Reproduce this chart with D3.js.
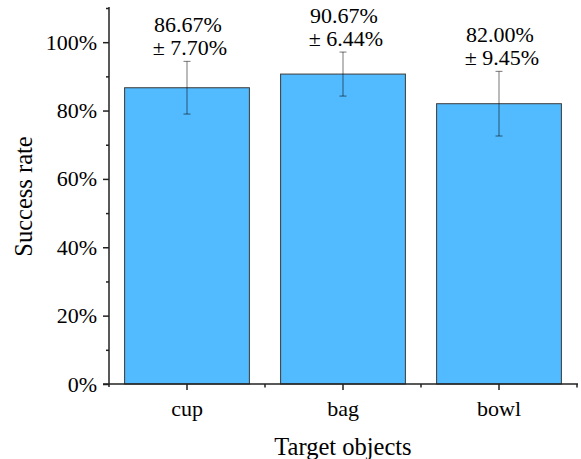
<!DOCTYPE html>
<html>
<head>
<meta charset="utf-8">
<script src="https://cdn.jsdelivr.net/npm/d3@7"></script>
<style>
html,body{margin:0;padding:0;background:#fff;}
</style>
</head>
<body>
<svg id="chart" width="581" height="459"></svg>
<script>
const categories = ["cup", "bag", "bowl"];
const values = [86.67, 90.67, 82.00];
const errors = [7.70, 6.44, 9.45];
const yTicks = [0, 20, 40, 60, 80, 100];
const yMinorTicks = [10, 30, 50, 70, 90, 110];

const FF = "'Liberation Serif', 'Times New Roman', Times, serif";
const font = "22px";

const svg = d3.select("#chart");
const mLeft = 109, mRight = 577, mTop = 8, mBottom = 384;

const x = d3.scaleBand().domain(categories).range([mLeft, mRight]).paddingInner(0.2).paddingOuter(0.1);
const xb = d3.scaleBand().domain(categories).range([mLeft, mRight]);
const y = d3.scaleLinear().domain([0, 110]).range([mBottom, mTop]);

function styleText(sel, size) {
  sel.style("font-family", FF).style("font-size", size || font).style("fill", "#000");
}

// bars
svg.append("g").selectAll("rect").data(categories).join("rect")
  .attr("x", d => x(d))
  .attr("y", (d, i) => y(values[i]))
  .attr("width", x.bandwidth())
  .attr("height", (d, i) => mBottom - y(values[i]))
  .attr("fill", "#52BAFE")
  .attr("stroke", "#3a3a3a")
  .attr("stroke-width", 1);

// error bars
const eg = svg.append("g").attr("stroke", "#000").attr("stroke-opacity", 0.45).attr("stroke-width", 1.2);
categories.forEach((c, i) => {
  const cx = xb(c) + xb.bandwidth() / 2;
  const y1 = y(values[i] + errors[i]), y2 = y(values[i] - errors[i]);
  eg.append("line").attr("x1", cx).attr("x2", cx).attr("y1", y1).attr("y2", y2);
  eg.append("line").attr("x1", cx - 3.5).attr("x2", cx + 3.5).attr("y1", y1).attr("y2", y1);
  eg.append("line").attr("x1", cx - 3.5).attr("x2", cx + 3.5).attr("y1", y2).attr("y2", y2);
});

// value labels
const lg = svg.append("g");
categories.forEach((c, i) => {
  const cx = xb(c) + xb.bandwidth() / 2;
  const yt = y(values[i] + errors[i]);
  lg.append("text").attr("x", cx + 1).attr("y", yt - 29).attr("text-anchor", "middle")
    .text(values[i].toFixed(2) + "%").call(styleText);
  lg.append("text").attr("x", cx + 3).attr("y", yt - 6).attr("text-anchor", "middle")
    .text("\u00B1 " + errors[i].toFixed(2) + "%").call(styleText);
});

// y axis
const yAxis = svg.append("g").attr("transform", `translate(${mLeft},0)`)
  .call(d3.axisLeft(y).tickValues(yTicks).tickSize(6).tickPadding(6).tickFormat(d => d + "%"));
yAxis.select(".domain").remove();
yAxis.selectAll("text").call(styleText);
yAxis.selectAll("line").attr("stroke", "#222").attr("stroke-width", 1.5);
svg.append("g").attr("transform", `translate(${mLeft},0)`)
  .call(d3.axisLeft(y).tickValues(yMinorTicks).tickSize(3).tickFormat(""))
  .call(g => g.select(".domain").remove())
  .selectAll("line").attr("stroke", "#222").attr("stroke-width", 1.5);

// x axis
const xAxis = svg.append("g").attr("transform", `translate(0,${mBottom})`)
  .call(d3.axisBottom(xb).tickSize(6).tickPadding(10));
xAxis.select(".domain").remove();
xAxis.selectAll("text").call(styleText);
xAxis.selectAll("line").attr("stroke", "#222").attr("stroke-width", 1.5);
const boundaries = categories.map(c => xb(c) + xb.bandwidth());
svg.append("g").selectAll("line").data(boundaries).join("line")
  .attr("x1", d => d).attr("x2", d => d).attr("y1", mBottom).attr("y2", mBottom + 3.5)
  .attr("stroke", "#222").attr("stroke-width", 1.5);

// axis lines
svg.append("line").attr("x1", mLeft).attr("x2", mLeft).attr("y1", mTop - 1).attr("y2", mBottom + 3)
  .attr("stroke", "#222").attr("stroke-width", 1.5);
svg.append("line").attr("x1", mLeft - 6).attr("x2", mRight + 1).attr("y1", mBottom).attr("y2", mBottom)
  .attr("stroke", "#222").attr("stroke-width", 1.5);

// titles
svg.append("text").attr("x", (mLeft + mRight) / 2).attr("y", 455).attr("text-anchor", "middle")
  .text("Target objects").call(styleText, "24.5px");
svg.append("text").attr("transform", "translate(32,196.5) rotate(-90)").attr("text-anchor", "middle")
  .text("Success rate").call(styleText, "24.5px");
</script>
</body>
</html>
